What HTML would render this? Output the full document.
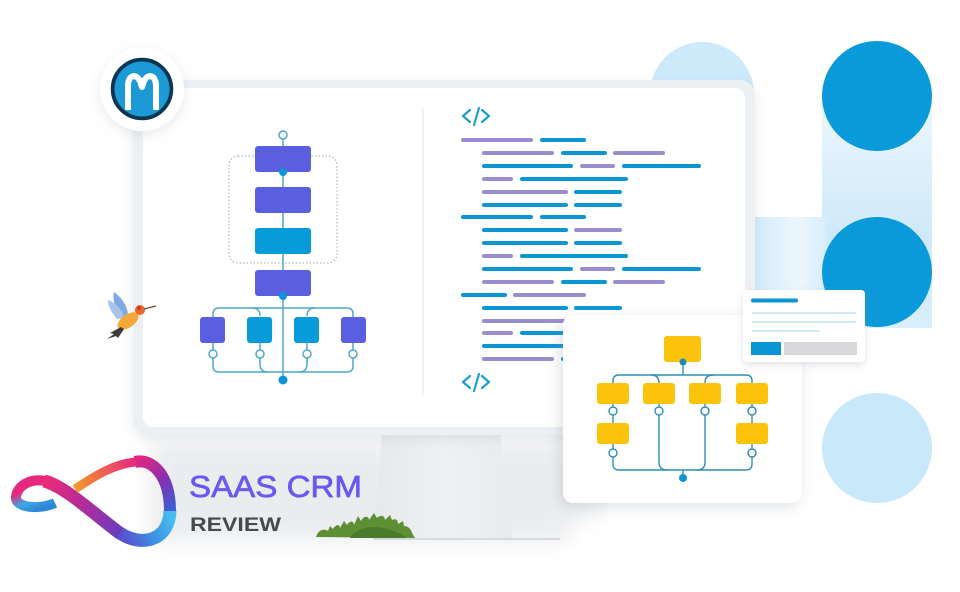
<!DOCTYPE html>
<html><head><meta charset="utf-8"><style>
html,body{margin:0;padding:0;background:#fff;}
body{width:960px;height:592px;overflow:hidden;}
svg{display:block;}
</style></head><body>
<svg width="960" height="592" viewBox="0 0 960 592" xmlns="http://www.w3.org/2000/svg">
<defs>
<filter id="blur10" x="-20%" y="-50%" width="140%" height="200%"><feGaussianBlur stdDeviation="10"/></filter>
<filter id="sh" x="-20%" y="-20%" width="140%" height="140%"><feDropShadow dx="-3" dy="4" stdDeviation="7" flood-color="#8a90a0" flood-opacity="0.28"/></filter>
<filter id="sh2" x="-20%" y="-20%" width="140%" height="150%"><feDropShadow dx="0" dy="3" stdDeviation="4" flood-color="#8a90a0" flood-opacity="0.25"/></filter>
<filter id="shm" x="-10%" y="-10%" width="120%" height="130%"><feDropShadow dx="0" dy="4" stdDeviation="6" flood-color="#9aa0aa" flood-opacity="0.22"/></filter>
<linearGradient id="col" x1="0" y1="0" x2="0" y2="1"><stop offset="0" stop-color="#eef7fd"/><stop offset="0.6" stop-color="#cfe9f9"/><stop offset="1" stop-color="#d9eefb"/></linearGradient>
<linearGradient id="hr" x1="0" y1="0" x2="1" y2="0"><stop offset="0" stop-color="#d3ebfa"/><stop offset="0.6" stop-color="#eef7fd"/><stop offset="1" stop-color="#d6ecfa"/></linearGradient>
<linearGradient id="stand" x1="0" y1="0" x2="1" y2="0"><stop offset="0" stop-color="#e6e8ec"/><stop offset="0.5" stop-color="#eef0f3"/><stop offset="1" stop-color="#e9ebef"/></linearGradient>
<linearGradient id="gA" x1="55" y1="503" x2="45" y2="481" gradientUnits="userSpaceOnUse"><stop offset="0" stop-color="#2f86d8"/><stop offset="0.5" stop-color="#3aa7e6"/><stop offset="1" stop-color="#e8287c"/></linearGradient>
<linearGradient id="gB" x1="45" y1="481" x2="120" y2="533" gradientUnits="userSpaceOnUse"><stop offset="0" stop-color="#ec2a7a"/><stop offset="0.5" stop-color="#b02c9a"/><stop offset="1" stop-color="#6b3cc0"/></linearGradient>
<linearGradient id="gC" x1="120" y1="533" x2="170" y2="510" gradientUnits="userSpaceOnUse"><stop offset="0" stop-color="#5a4fd0"/><stop offset="0.5" stop-color="#3d8fe0"/><stop offset="1" stop-color="#48bff0"/></linearGradient>
<linearGradient id="gD" x1="170" y1="510" x2="135" y2="462" gradientUnits="userSpaceOnUse"><stop offset="0" stop-color="#3a5fd0"/><stop offset="0.5" stop-color="#8a2fb0"/><stop offset="1" stop-color="#e0287e"/></linearGradient>
<linearGradient id="gE" x1="135" y1="462" x2="75" y2="488" gradientUnits="userSpaceOnUse"><stop offset="0" stop-color="#e62a7c"/><stop offset="1" stop-color="#f39a2a"/></linearGradient>
</defs>

<!-- background shadows -->
<rect x="150" y="442" width="420" height="100" fill="#e6e8eb" filter="url(#blur10)" opacity="0.8"/>
<rect x="560" y="330" width="40" height="190" fill="#e3e5e9" filter="url(#blur10)" opacity="0.6"/>

<!-- right decorations -->
<rect x="822" y="96" width="110" height="232" fill="url(#col)"/>
<rect x="755" y="217" width="72" height="73" fill="url(#hr)"/>
<circle cx="702" cy="94" r="52" fill="#cde9fa"/>
<circle cx="877" cy="96" r="55" fill="#0a9ad9"/>
<circle cx="877" cy="272" r="55" fill="#0a9ad9"/>
<circle cx="877" cy="448" r="55" fill="#c9e8fa"/>

<!-- stand -->
<polygon points="382,433 500,433 513,539 373,539" fill="url(#stand)"/>
<line x1="373" y1="539" x2="560" y2="539" stroke="#cfd2d7" stroke-width="1.5"/>

<!-- monitor -->
<rect x="133" y="80" width="622" height="355" rx="16" fill="#edf0f3" filter="url(#shm)"/>
<rect x="143" y="88" width="602" height="339" rx="10" fill="#ffffff"/>
<line x1="423" y1="108" x2="423" y2="395" stroke="#eceef1" stroke-width="1.5"/>

<!-- left diagram -->
<g stroke="#4fa8c9" stroke-width="1.5" fill="none">
<rect x="229" y="156" width="108" height="107" rx="9" stroke="#9ea6b0" stroke-width="1" stroke-dasharray="1.5,2"/>
<line x1="283" y1="139" x2="283" y2="296"/>
<line x1="283" y1="296" x2="283" y2="380"/>
<path d="M213,317 L213,314 Q213,308 219,308 L347,308 Q353,308 353,314 L353,317"/>
<path d="M252,308 Q260,308 260,316 M315,308 Q307,308 307,316"/>
<path d="M213,343 L213,366 Q213,372 219,372 L347,372 Q353,372 353,366 L353,343"/>
<path d="M260,343 L260,364 Q260,372 268,372 M307,343 L307,364 Q307,372 299,372"/>
</g>
<circle cx="283" cy="135" r="4" fill="#fff" stroke="#4fa8c9" stroke-width="1.5"/>
<rect x="255" y="146" width="56" height="26" rx="3" fill="#5a5fe0"/>
<rect x="255" y="187" width="56" height="26" rx="3" fill="#5a5fe0"/>
<rect x="255" y="228" width="56" height="26" rx="3" fill="#079bd9"/>
<rect x="255" y="270" width="56" height="26" rx="3" fill="#5a5fe0"/>
<circle cx="283" cy="172" r="4" fill="#0a96d4"/>
<circle cx="283" cy="296" r="4" fill="#0a96d4"/>
<circle cx="283" cy="380" r="4.5" fill="#0a96d4"/>
<rect x="200" y="317" width="25" height="26" rx="3" fill="#5a5fe0"/>
<rect x="247" y="317" width="25" height="26" rx="3" fill="#079bd9"/>
<rect x="294" y="317" width="25" height="26" rx="3" fill="#079bd9"/>
<rect x="341" y="317" width="25" height="26" rx="3" fill="#5a5fe0"/>
<g fill="#fff" stroke="#4fa8c9" stroke-width="1.5">
<circle cx="213" cy="354" r="4"/><circle cx="260" cy="354" r="4"/><circle cx="307" cy="354" r="4"/><circle cx="353" cy="354" r="4"/>
</g>

<!-- code icons -->
<g stroke="#1a9fcf" stroke-width="2.2" fill="none" stroke-linecap="round" stroke-linejoin="round">
<polyline points="470,110 463,116 470,122"/><line x1="479" y1="108" x2="474" y2="125"/><polyline points="482,110 489,116 482,122"/>
<polyline points="470,376 463,382 470,388"/><line x1="479" y1="374" x2="474" y2="391"/><polyline points="482,376 489,382 482,388"/>
</g>

<!-- code lines -->
<g stroke-width="4" stroke-linecap="round">
<g stroke="#9a8ccf">
<line x1="463" y1="140" x2="531" y2="140"/>
<line x1="484" y1="153" x2="552" y2="153"/><line x1="615" y1="153" x2="663" y2="153"/>
<line x1="582" y1="166" x2="613" y2="166"/>
<line x1="484" y1="179" x2="511" y2="179"/>
<line x1="484" y1="192" x2="566" y2="192"/>
<line x1="576" y1="230" x2="620" y2="230"/>
<line x1="484" y1="256" x2="511" y2="256"/>
<line x1="582" y1="269" x2="613" y2="269"/>
<line x1="484" y1="282" x2="552" y2="282"/><line x1="615" y1="282" x2="663" y2="282"/>
<line x1="515" y1="295" x2="584" y2="295"/>
<line x1="484" y1="321" x2="570" y2="321"/>
<line x1="484" y1="333" x2="511" y2="333"/>
<line x1="484" y1="359" x2="552" y2="359"/>
</g>
<g stroke="#0a96d4">
<line x1="542" y1="140" x2="584" y2="140"/>
<line x1="563" y1="153" x2="605" y2="153"/>
<line x1="484" y1="166" x2="571" y2="166"/><line x1="624" y1="166" x2="699" y2="166"/>
<line x1="522" y1="179" x2="626" y2="179"/>
<line x1="576" y1="192" x2="620" y2="192"/>
<line x1="484" y1="205" x2="566" y2="205"/><line x1="576" y1="205" x2="620" y2="205"/>
<line x1="463" y1="217" x2="531" y2="217"/><line x1="542" y1="217" x2="584" y2="217"/>
<line x1="484" y1="230" x2="566" y2="230"/>
<line x1="484" y1="243" x2="566" y2="243"/><line x1="576" y1="243" x2="620" y2="243"/>
<line x1="522" y1="256" x2="626" y2="256"/>
<line x1="484" y1="269" x2="571" y2="269"/><line x1="624" y1="269" x2="699" y2="269"/>
<line x1="563" y1="282" x2="605" y2="282"/>
<line x1="463" y1="295" x2="505" y2="295"/>
<line x1="484" y1="308" x2="566" y2="308"/><line x1="576" y1="308" x2="620" y2="308"/>
<line x1="522" y1="333" x2="600" y2="333"/>
<line x1="484" y1="346" x2="580" y2="346"/>
<line x1="563" y1="359" x2="600" y2="359"/>
</g>
</g>

<!-- yellow card -->
<rect x="563" y="315" width="239" height="188" rx="10" fill="#fff" filter="url(#sh)"/>
<g stroke="#2f8fb3" stroke-width="1.4" fill="none">
<line x1="683" y1="362" x2="683" y2="375"/>
<path d="M613,383 L613,381 Q613,375 619,375 L746,375 Q752,375 752,381 L752,383"/>
<path d="M651,375 Q659,375 659,383 M713,375 Q705,375 705,383"/>
<line x1="613" y1="404" x2="613" y2="423"/><line x1="752" y1="404" x2="752" y2="423"/>
<path d="M613,444 L613,464 Q613,470 619,470 L746,470 Q752,470 752,464 L752,444"/>
<path d="M659,404 L659,462 Q659,470 667,470 M705,404 L705,462 Q705,470 697,470"/>
<line x1="683" y1="470" x2="683" y2="478"/>
</g>
<g fill="#fbc30a">
<rect x="664" y="336" width="37" height="26" rx="3"/>
<rect x="597" y="383" width="32" height="21" rx="3"/>
<rect x="643" y="383" width="32" height="21" rx="3"/>
<rect x="689" y="383" width="32" height="21" rx="3"/>
<rect x="736" y="383" width="32" height="21" rx="3"/>
<rect x="597" y="423" width="32" height="21" rx="3"/>
<rect x="736" y="423" width="32" height="21" rx="3"/>
</g>
<circle cx="683" cy="362" r="3.5" fill="#1f8db5"/>
<circle cx="683" cy="478" r="4" fill="#0a96d4"/>
<g fill="#fff" stroke="#2f8fb3" stroke-width="1.4">
<circle cx="613" cy="411" r="4"/><circle cx="659" cy="411" r="4"/><circle cx="705" cy="411" r="4"/><circle cx="752" cy="411" r="4"/>
<circle cx="613" cy="453" r="4"/><circle cx="752" cy="453" r="4"/>
</g>

<!-- small card -->
<rect x="743" y="290" width="122" height="72" rx="4" fill="#fff" filter="url(#sh2)"/>
<line x1="753" y1="300.5" x2="796" y2="300.5" stroke="#0a96d4" stroke-width="4" stroke-linecap="round"/>
<line x1="752" y1="313" x2="856" y2="313" stroke="#d3e9f6" stroke-width="2"/>
<line x1="752" y1="322" x2="856" y2="322" stroke="#d3e9f6" stroke-width="2"/>
<line x1="752" y1="331" x2="820" y2="331" stroke="#d3e9f6" stroke-width="2"/>
<rect x="751" y="342" width="30" height="13" fill="#0a96d4"/>
<rect x="784" y="342" width="73" height="13" fill="#d9d9db"/>

<!-- M logo -->
<circle cx="142" cy="89" r="42" fill="#fff" filter="url(#shm)"/>
<circle cx="142" cy="89" r="30" fill="#0b3550"/>
<circle cx="142" cy="89" r="27.5" fill="#1b9ad6"/>
<path d="M128,110 L128,86 C128,75 136,73 140,81 L142,87 L144,81 C148,73 156,75 156,86 L156,110" stroke="#fff" stroke-width="6" fill="none" stroke-linejoin="round"/>
<circle cx="142" cy="89" r="30" fill="none" stroke="#0b3550" stroke-width="2.5"/>

<!-- hummingbird -->
<g>
<path d="M114,292 C121,297 128,306 128,316 L121,317 C116,310 112,301 114,292 Z" fill="#7fa9e0"/>
<path d="M108,300 C116,303 122,309 124,318 L117,319 C112,313 108,307 108,300 Z" fill="#a8c4ec"/>
<ellipse cx="128" cy="321" rx="12" ry="6.5" transform="rotate(-35 128 321)" fill="#f4a83a"/>
<circle cx="140" cy="310" r="5" fill="#e8682a"/>
<circle cx="139" cy="308" r="2" fill="#d23a2a"/>
<line x1="144" y1="309" x2="156" y2="306" stroke="#6a4a3a" stroke-width="1.2"/>
<path d="M121,327 L110,333 L114,334 L107,339 L116,336 L118,338 L124,329 Z" fill="#3a3a3a"/>
</g>

<!-- bush -->
<g fill="#5e8f34">
<path d="M316,537 C318,530 324,528 328,531 L330,526 L333,529 C336,524 340,524 340,528 L344,521 L347,525 C350,520 354,521 354,525 L358,516 L361,521 C364,515 369,516 369,520 L374,513 L377,518 C381,514 385,516 385,520 L390,515 L392,520 C396,518 398,520 398,524 L403,521 L404,526 C408,526 411,529 412,533 L415,538 Z"/>
</g>
<path d="M350,538 C356,528 372,524 390,530 C398,532 404,535 406,538 Z" fill="#4a7a2a"/>

<!-- brand logo -->
<g fill="none">
<path d="M55,503 C40,510 15,508 16,497 C17,486 30,478 45,481" stroke="url(#gA)" stroke-width="10"/>
<path d="M44,481 C65,486 95,515 121,534" stroke="url(#gB)" stroke-width="13"/>
<path d="M120,533 C142,548 170,540 170,510" stroke="url(#gC)" stroke-width="13"/>
<path d="M170,511 C170,475 152,458 135,462" stroke="url(#gD)" stroke-width="12"/>
<path d="M136,462 C112,464 92,478 75,489" stroke="url(#gE)" stroke-width="9"/>
</g>
<text x="189" y="497" font-family="Liberation Sans, sans-serif" font-size="31" fill="#6b58f0" stroke="#6b58f0" stroke-width="0.7" textLength="173" lengthAdjust="spacingAndGlyphs">SAAS CRM</text>
<text x="190" y="531" font-family="Liberation Sans, sans-serif" font-size="19" font-weight="bold" fill="#46494f" textLength="91" lengthAdjust="spacingAndGlyphs">REVIEW</text>
</svg>
</body></html>
